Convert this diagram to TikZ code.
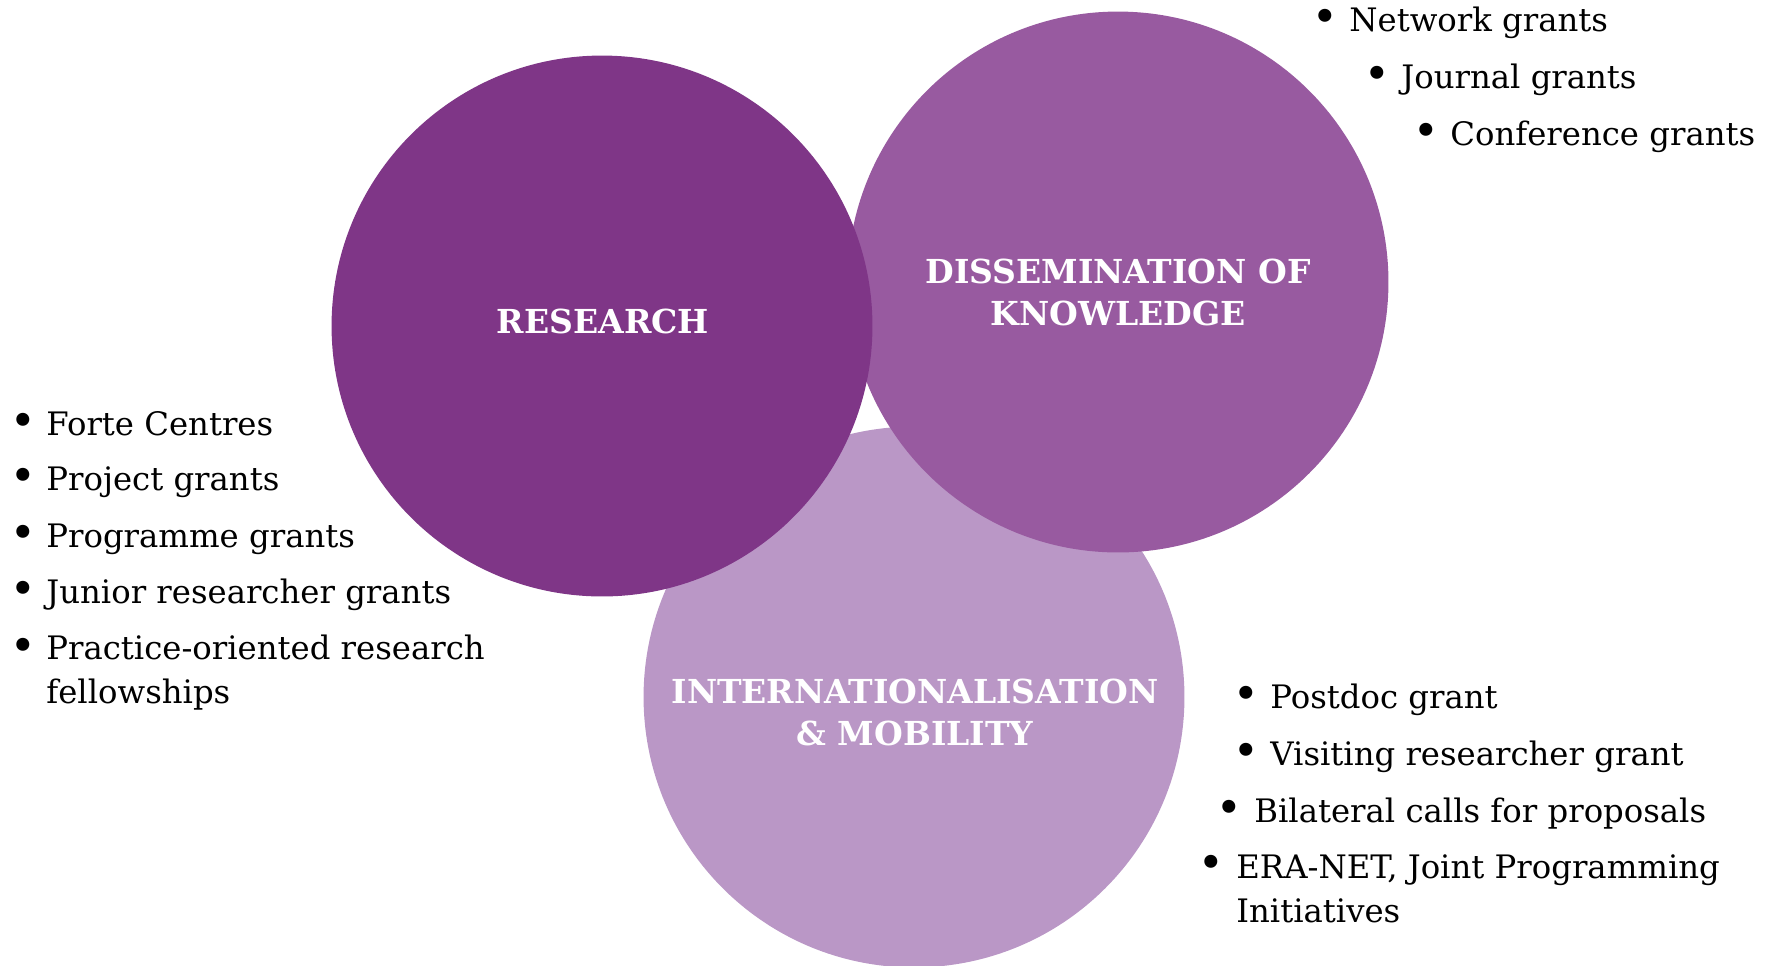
\documentclass[tikz,border=0pt]{standalone}
\usepackage{fontspec}
\setmainfont{DejaVu Serif}

\definecolor{researchcol}{HTML}{7F3687}
\definecolor{dissemcol}{HTML}{985AA0}
\definecolor{intlcol}{HTML}{BA97C6}

\tikzset{
  bubble/.style={circle, inner sep=0pt, minimum size=10.82cm},
  biglabel/.style={text=white, font=\fontsize{18.8}{23.8}\selectfont\bfseries, align=center, anchor=base},
  grant/.style={font=\fontsize{18.4}{24.5}\selectfont, anchor=base west, inner sep=0pt},
  dot/.style={font=\fontsize{21}{24.5}\selectfont\bfseries, anchor=base, inner sep=0pt}
}

\begin{document}
\begin{tikzpicture}[x=0.02cm,y=-0.02cm]

\useasboundingbox (0,0) rectangle (1767,965);

% the three circles
\node [bubble, fill=intlcol] (intl) at (914,697) {};
\node [bubble, fill=dissemcol] (dissem) at (1118,282) {};
\node [bubble, fill=researchcol] (research) at (602,326) {};

\node [biglabel] (researchtext) at (603,333) {RESEARCH};
\node [biglabel] (dissemtext) at (1118,325) {DISSEMINATION OF\\KNOWLEDGE};
\node [biglabel] (intltext) at (915,745) {INTERNATIONALISATION\\\& MOBILITY};

% research grants
\node [dot] (d1) at (23,433) {•};
\node [dot] (d2) at (23,488) {•};
\node [dot] (d3) at (23,545) {•};
\node [dot] (d4) at (23,601) {•};
\node [dot] (d5) at (23,658) {•};
\node [grant] (g1) at (46,435) {Forte Centres};
\node [grant] (g2) at (46,490) {Project grants};
\node [grant] (g3) at (46,547) {Programme grants};
\node [grant] (g4) at (46,603) {Junior researcher grants};
\node [grant, align=left] (g5) at (46,703) {Practice-oriented research\\fellowships};

% dissemination grants
\node [dot] (d6) at (1325,29) {•};
\node [dot] (d7) at (1377,86) {•};
\node [dot] (d8) at (1426,143) {•};
\node [grant] (g6) at (1349,31) {Network grants};
\node [grant] (g7) at (1401,88) {Journal grants};
\node [grant] (g8) at (1450,145) {Conference grants};

% mobility grants
\node [dot] (d9) at (1246,706) {•};
\node [dot] (d10) at (1246,763) {•};
\node [dot] (d11) at (1229,820) {•};
\node [dot] (d12) at (1211,875) {•};
\node [grant] (g9) at (1270,708) {Postdoc grant};
\node [grant] (g10) at (1270,765) {Visiting researcher grant};
\node [grant] (g11) at (1254,822) {Bilateral calls for proposals};
\node [grant, align=left] (g12) at (1236,922) {ERA-NET, Joint Programming\\Initiatives};

\end{tikzpicture}
\end{document}
